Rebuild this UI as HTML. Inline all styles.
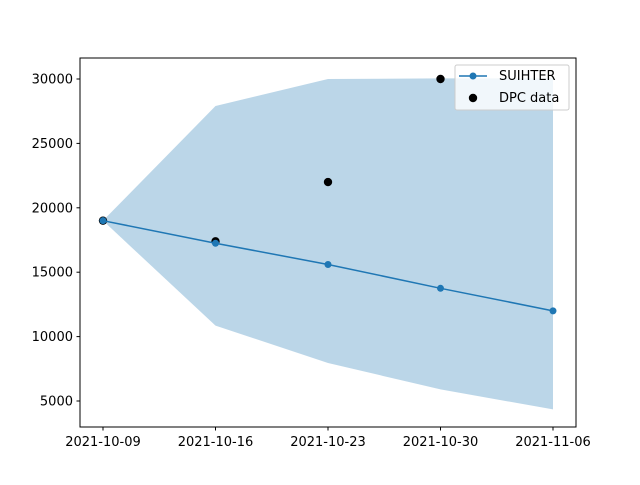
<!DOCTYPE html>
<html><head><meta charset="utf-8"><style>
body{margin:0;background:#fff}
svg text{font-family:"DejaVu Sans","Liberation Sans",sans-serif;font-size:13px;fill:#000}
</style></head><body>
<svg id="chart" width="640" height="480" xmlns="http://www.w3.org/2000/svg">
<rect width="640" height="480" fill="#fff"/>
<g id="plot"></g>
</svg>
<script>
const dates=["2021-10-09","2021-10-16","2021-10-23","2021-10-30","2021-11-06"];
const days=[0,7,14,21,28];
const suihter=[19000,17250,15600,13750,12000];
const upper=[19000,27900,30000,30050,30050];
const lower=[19000,10850,7950,5900,4350];
const dpcDays=[0,7,14,21];
const dpc=[19000,17400,22000,30000];
const yTicks=[5000,10000,15000,20000,25000,30000];

const NS="http://www.w3.org/2000/svg";
const L=80,R=576,T=58,B=427;
const x=d=>103+d*(450/28);
const y=v=>79+(30000-v)/5000*64.4;
const g=document.getElementById('plot');
function mk(t,a){const e=document.createElementNS(NS,t);for(const k in a)e.setAttribute(k,a[k]);g.appendChild(e);return e;}

let pts=days.map((d,i)=>x(d)+","+y(upper[i]));
for(let i=days.length-1;i>=0;i--)pts.push(x(days[i])+","+y(lower[i]));
const band=mk('polygon',{points:pts.join(" "),fill:"#1f77b4","fill-opacity":"0.3"});



dpcDays.forEach((d,i)=>{const c=mk('circle',{cx:x(d),cy:y(dpc[i]),r:4.2,fill:"#000"});

});

const line=mk('polyline',{points:days.map((d,i)=>x(d)+","+y(suihter[i])).join(" "),fill:"none",stroke:"#1f77b4","stroke-width":"1.5"});


days.forEach((d,i)=>{const c=mk('circle',{cx:x(d),cy:y(suihter[i]),r:3.5,fill:"#1f77b4"});

});

const fr=mk('rect',{x:L,y:T,width:R-L,height:B-T,fill:"none",stroke:"#000","stroke-width":"1"});



yTicks.forEach(v=>{mk('line',{x1:L-3.5,x2:L,y1:y(v),y2:y(v),stroke:"#000"});
const t=mk('text',{x:L-7,y:y(v)+4.5,"text-anchor":"end"});t.textContent=v;

});
days.forEach((d,i)=>{mk('line',{x1:x(d),x2:x(d),y1:B,y2:B+3.5,stroke:"#000"});
const t=mk('text',{x:x(d),y:B+19,"text-anchor":"middle"});t.textContent=dates[i];

});

const lg=mk('rect',{x:455,y:65,width:114,height:45,rx:2,fill:"#fff","fill-opacity":"0.8",stroke:"#ccc"});


mk('line',{x1:459,x2:487,y1:76,y2:76,stroke:"#1f77b4","stroke-width":"1.5"});
mk('circle',{cx:473,cy:76,r:3.5,fill:"#1f77b4"});
const t1=mk('text',{x:499,y:80});t1.textContent="SUIHTER";


mk('circle',{cx:473,cy:98,r:4.2,fill:"#000"});
const t2=mk('text',{x:499,y:102});t2.textContent="DPC data";


</script>
</body></html>
